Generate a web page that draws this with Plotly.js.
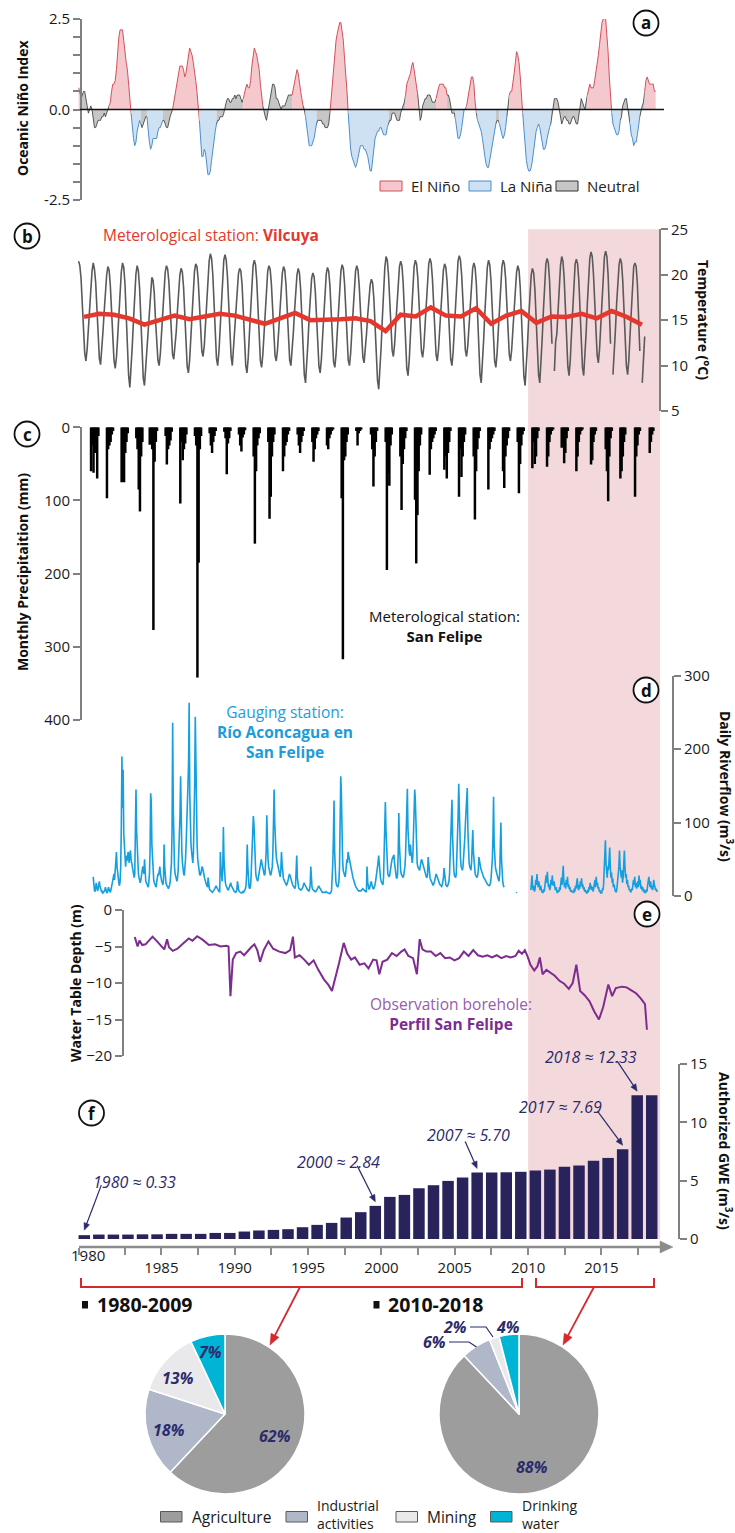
<!DOCTYPE html>
<html><head><meta charset="utf-8">
<script src="https://cdn.plot.ly/plotly-3.0.1.min.js"></script>
<style>html,body{margin:0;padding:0;background:#fff}#chart{width:735px;height:1533px}</style>
</head><body><div id="chart"></div>
<script>
// ---------------- DATA ----------------
// (a) Oceanic Niño Index, monthly from Jan 1980
const oniStartYear = 1980;
const oniValues = [
0.6,0.5,0.3,0.4,0.5,0.5,0.3,0.0,-0.1,0.0,0.1,0.0,
-0.3,-0.5,-0.5,-0.4,-0.3,-0.3,-0.3,-0.2,-0.2,-0.1,-0.2,-0.1,
0.0,0.1,0.2,0.5,0.7,0.7,0.8,1.1,1.6,2.0,2.2,2.2,
2.2,1.9,1.5,1.3,1.1,0.7,0.3,-0.1,-0.5,-0.8,-1.0,-0.9,
-0.6,-0.4,-0.3,-0.4,-0.5,-0.4,-0.3,-0.2,-0.2,-0.6,-0.9,-1.1,
-1.0,-0.8,-0.8,-0.8,-0.8,-0.6,-0.5,-0.5,-0.4,-0.3,-0.3,-0.4,
-0.5,-0.5,-0.3,-0.2,-0.1,0.0,0.2,0.4,0.7,0.9,1.1,1.2,
1.2,1.2,1.1,0.9,1.0,1.2,1.5,1.7,1.6,1.5,1.3,1.1,
0.8,0.5,0.1,-0.3,-0.9,-1.3,-1.3,-1.1,-1.2,-1.5,-1.8,-1.8,
-1.7,-1.4,-1.1,-0.8,-0.6,-0.4,-0.3,-0.3,-0.2,-0.2,-0.2,-0.1,
0.1,0.2,0.3,0.3,0.2,0.2,0.3,0.3,0.4,0.3,0.4,0.4,
0.4,0.3,0.2,0.3,0.5,0.6,0.7,0.6,0.6,0.8,1.2,1.5,
1.7,1.6,1.5,1.3,1.1,0.7,0.4,0.1,-0.1,-0.2,-0.3,-0.1,
0.1,0.3,0.5,0.7,0.7,0.6,0.3,0.3,0.2,0.1,0.0,0.1,
0.1,0.1,0.2,0.3,0.4,0.4,0.4,0.4,0.6,0.7,1.0,1.1,
1.0,0.7,0.5,0.3,0.1,0.0,-0.2,-0.5,-0.8,-1.0,-1.0,-1.0,
-0.9,-0.8,-0.6,-0.4,-0.3,-0.3,-0.3,-0.3,-0.4,-0.4,-0.5,-0.5,
-0.5,-0.4,-0.1,0.3,0.8,1.2,1.6,1.9,2.1,2.3,2.4,2.4,
2.2,1.9,1.4,1.0,0.5,-0.1,-0.8,-1.1,-1.3,-1.4,-1.5,-1.6,
-1.5,-1.3,-1.1,-1.0,-1.0,-1.0,-1.1,-1.1,-1.2,-1.3,-1.5,-1.7,
-1.7,-1.4,-1.1,-0.8,-0.7,-0.6,-0.6,-0.5,-0.5,-0.6,-0.7,-0.7,
-0.7,-0.5,-0.4,-0.3,-0.3,-0.1,-0.1,-0.1,-0.2,-0.3,-0.3,-0.3,
-0.1,0.0,0.1,0.2,0.4,0.7,0.8,0.9,1.0,1.2,1.3,1.1,
0.9,0.6,0.4,0.0,-0.3,-0.2,0.1,0.2,0.3,0.3,0.4,0.4,
0.4,0.3,0.2,0.2,0.2,0.3,0.5,0.6,0.7,0.7,0.7,0.7,
0.6,0.6,0.4,0.4,0.3,0.1,-0.1,-0.1,-0.1,-0.3,-0.6,-0.8,
-0.8,-0.7,-0.5,-0.3,0.0,0.0,0.1,0.3,0.5,0.7,0.9,0.9,
0.7,0.2,-0.1,-0.3,-0.4,-0.5,-0.6,-0.8,-1.1,-1.3,-1.5,-1.6,
-1.6,-1.4,-1.2,-0.9,-0.8,-0.5,-0.4,-0.3,-0.3,-0.4,-0.6,-0.7,
-0.8,-0.7,-0.5,-0.2,0.1,0.4,0.5,0.5,0.7,1.0,1.3,1.6,
1.5,1.3,0.9,0.4,-0.1,-0.6,-1.0,-1.4,-1.6,-1.7,-1.7,-1.6,
-1.4,-1.1,-0.8,-0.6,-0.5,-0.4,-0.5,-0.7,-0.9,-1.1,-1.1,-1.0,
-0.8,-0.6,-0.5,-0.4,-0.2,0.1,0.3,0.3,0.3,0.2,0.0,-0.2,
-0.4,-0.3,-0.2,-0.2,-0.3,-0.3,-0.4,-0.4,-0.3,-0.2,-0.2,-0.3,
-0.4,-0.4,-0.2,0.1,0.3,0.2,0.1,0.0,0.2,0.4,0.6,0.7,
0.6,0.6,0.6,0.8,1.0,1.2,1.5,1.8,2.1,2.4,2.5,2.6,
2.5,2.1,1.6,0.9,0.4,-0.1,-0.4,-0.5,-0.6,-0.7,-0.7,-0.6,
-0.3,-0.2,0.1,0.2,0.3,0.3,0.1,-0.1,-0.4,-0.7,-0.8,-1.0,
-0.9,-0.9,-0.7,-0.5,-0.2,0.0,0.1,0.2,0.5,0.8,0.9,0.8,
0.7,0.7,0.7,0.7,0.5,0.5
];
const elNinoEpisodes = [['1980-01','1980-01'],['1982-02','1983-07'],['1986-06','1988-03'],['1991-04','1992-07'],['1994-08','1995-04'],['1997-03','1998-05'],['2002-05','2003-02'],['2004-06','2005-02'],['2006-07','2007-02'],['2009-06','2010-04'],['2014-10','2016-05'],['2018-09','2019-06']];
const laNinaEpisodes = [['1983-08','1984-03'],['1984-09','1985-09'],['1988-04','1989-05'],['1995-07','1996-03'],['1998-06','2001-02'],['2005-10','2006-04'],['2007-04','2008-06'],['2008-10','2009-03'],['2010-05','2012-03'],['2016-06','2016-12'],['2017-09','2018-04']];
const oniLabelTicks = [-2.5, 0, 2.5];
const oniMinorTicks = [-2, -1.5, -1, -0.5, 0.5, 1, 1.5, 2];

// (b) Monthly temperature at Vilcuya (°C), rows = years from 1980
const tempStartYear = 1980;
const temperatureMonthly = [
[21.5,21.0,19.6,16.5,13.2,11.4,10.5,11.8,14.0,16.4,18.6,20.4],
[21.3,20.6,19.1,16.0,12.8,10.8,10.1,11.6,13.8,16.0,18.1,20.0],
[20.9,20.5,18.8,15.6,12.4,10.6,9.7,10.9,13.1,15.8,18.2,20.3],
[21.3,20.8,19.0,15.2,11.5,8.9,7.6,9.6,12.2,15.0,17.9,20.1],
[21.0,20.4,18.5,14.8,11.0,8.6,7.8,9.8,12.0,14.6,16.8,18.6],
[19.7,19.4,18.0,15.1,12.2,10.6,10.0,11.3,13.6,16.2,18.7,20.3],
[21.0,20.6,19.2,16.3,13.1,11.2,10.7,11.9,13.7,16.0,18.1,20.0],
[20.7,20.3,18.7,15.4,12.0,9.9,9.2,10.6,13.1,15.8,18.4,20.4],
[21.2,20.9,19.5,16.6,13.4,11.6,11.0,12.2,14.5,17.3,19.8,21.5],
[22.3,21.8,20.0,16.7,13.0,10.8,10.0,11.5,14.0,17.0,19.9,21.6],
[22.2,21.6,19.8,16.3,12.9,11.0,10.0,12.1,13.8,16.2,18.5,20.1],
[20.7,20.4,18.9,15.6,12.1,10.0,9.2,10.8,13.5,16.4,19.2,21.0],
[21.6,21.1,19.4,16.0,12.6,10.5,9.8,11.2,13.5,16.1,18.6,20.4],
[21.0,20.6,19.0,16.0,12.9,11.1,10.5,11.7,13.8,16.2,18.5,20.2],
[20.9,20.5,18.9,15.7,12.4,10.6,10.0,11.4,13.6,16.0,18.3,20.0],
[20.7,20.2,18.4,14.9,11.2,9.0,8.1,9.9,12.6,15.4,17.9,19.6],
[20.2,19.8,18.2,15.0,11.8,9.9,9.2,10.7,13.2,15.9,18.4,20.1],
[20.8,20.4,18.8,15.6,12.4,10.4,9.8,11.2,13.6,16.2,18.7,20.4],
[21.1,20.7,19.0,15.8,12.6,10.6,10.0,11.4,13.8,16.4,18.8,20.4],
[21.0,20.5,18.8,15.7,12.7,10.9,10.3,11.6,13.5,15.6,17.4,18.9],
[19.5,19.1,17.4,14.2,10.9,8.4,7.4,9.3,12.1,15.3,18.4,20.8],
[22.0,21.6,20.0,16.9,13.7,11.7,11.0,12.3,14.6,17.1,19.4,20.9],
[21.5,21.0,19.2,15.6,11.9,9.7,8.9,10.6,13.4,16.4,19.2,20.9],
[21.6,21.2,19.7,16.7,13.6,11.6,10.9,12.1,14.5,17.2,19.7,21.2],
[21.8,21.3,19.6,16.4,13.2,11.2,10.5,11.8,14.0,16.5,18.9,20.5],
[21.2,20.8,19.3,16.1,12.8,10.7,10.0,11.5,14.1,17.0,19.8,21.5],
[22.1,21.6,19.9,16.8,13.7,11.7,11.0,12.2,14.3,16.8,19.1,20.7],
[21.3,20.8,19.0,15.3,11.5,9.0,8.1,9.9,12.8,15.8,18.8,20.8],
[21.6,21.1,19.4,16.1,12.7,10.5,9.8,11.3,13.8,16.6,19.2,20.9],
[21.6,21.2,19.6,16.5,13.3,11.2,10.5,11.8,14.0,16.4,18.8,20.3],
[21.0,20.5,18.6,14.9,11.2,8.8,7.8,9.7,12.5,15.4,18.2,20.0],
[20.7,20.2,18.4,14.8,11.3,9.0,8.1,10.0,13.0,16.1,19.2,21.2],
[21.8,21.3,19.4,15.9,12.4,null,9.4,12.6,13.5,16.3,19.0,21.0],
[22.0,21.5,19.6,16.0,12.3,9.9,8.9,10.6,13.5,16.6,19.4,21.2],
[21.7,21.2,19.4,15.8,12.1,9.8,8.9,10.7,13.6,16.8,19.8,21.8],
[22.5,22.0,20.1,16.7,13.4,11.2,10.3,11.8,14.4,17.4,20.2,22.0],
[22.6,22.0,20.0,16.3,12.4,null,9.0,11.0,13.9,16.8,19.4,21.1],
[21.8,21.3,19.4,15.9,12.2,10.0,9.0,10.6,13.4,16.3,19.0,20.9],
[21.3,20.9,19.0,15.3,11.6,null,8.1,10.5,13.2]
];
// annual mean temperature
const annualYears = [1981,1982,1983,1984,1985,1986,1987,1988,1989,1990,1991,1992,1993,1994,1995,1996,1997,1998,1999,2000,2001,2002,2003,2004,2005,2006,2007,2008,2009,2010,2011,2012,2013,2014,2015,2016,2017,2018];
const annualMeanTemp = [15.36,15.7,15.6,15.2,14.5,15.0,15.5,15.1,15.4,15.7,15.5,15.0,14.6,15.2,15.8,15.0,15.0,15.1,15.2,14.9,13.8,15.6,15.4,16.4,15.5,15.4,16.3,14.6,15.5,16.0,14.7,15.4,15.35,15.7,15.2,16.0,15.35,14.5];

// (c) Monthly precipitation at San Felipe (mm), rows = years from 1980
const precipStartYear = 1980;
const precipMonthly = [
[0,0,60,25,62,35,20,70,12,0,0,0],
[0,0,0,97,30,25,20,10,5,0,0,0],
[0,0,0,75,74,75,35,20,8,0,0,0],
[0,0,0,15,30,85,115,40,20,0,0,0],
[0,0,24,10,30,277,47,20,5,0,0,0],
[0,0,0,12,51,30,25,18,6,0,0,0],
[0,0,0,104,20,45,30,22,10,0,0,0],
[0,0,0,12,25,342,185,30,12,0,0,0],
[0,0,0,8,25,35,20,12,5,0,0,0],
[0,0,0,6,15,64,22,15,5,0,0,0],
[0,0,0,10,25,33,14,10,4,0,0,0],
[0,0,0,40,159,60,25,15,8,0,0,0],
[0,0,0,20,125,95,40,20,10,0,0,0],
[0,0,0,60,40,25,20,10,5,0,0,0],
[0,0,0,10,25,35,20,12,5,0,0,0],
[0,0,0,20,47,30,15,10,5,0,0,0],
[0,0,0,25,30,15,10,5,3,0,0,0],
[0,0,0,97,317,45,40,20,10,0,0,0],
[0,0,0,5,25,8,5,3,0,0,0,0],
[0,0,0,10,30,81,40,20,5,0,0,0],
[0,0,0,20,195,63,80,25,10,0,0,0],
[0,0,0,40,113,50,30,15,5,0,0,0],
[0,0,0,99,186,120,60,25,10,0,0,0],
[0,0,0,65,30,20,15,10,5,0,0,0],
[0,0,0,58,40,70,35,20,5,0,0,0],
[0,0,0,95,30,68,40,20,10,0,0,0],
[0,0,0,40,126,60,30,15,5,0,0,0],
[0,0,0,85,30,20,15,10,5,0,0,0],
[0,0,0,60,83,40,25,15,5,0,0,0],
[0,0,0,20,90,50,25,10,5,0,0,0],
[0,0,0,56,20,50,40,15,5,0,0,0],
[0,0,0,54,40,20,10,5,3,0,0,0],
[0,0,0,28,20,49,35,15,5,0,0,0],
[0,0,0,60,40,20,10,5,3,0,0,0],
[0,0,0,51,45,20,10,5,0,0,0,0],
[0,0,0,30,60,101,40,15,5,0,0,0],
[0,0,0,70,60,40,20,10,0,0,0,0],
[0,0,0,95,40,25,10,5,0,0,0,0],
[0,0,0,35,20,10,5,0,0,0,0,0]
];

// (d) River flow Río Aconcagua en San Felipe (m3/s), 24 values per year from 1980
const riverStartYear = 1980;
const riverflow = [
[null,null,null,null,null,null,null,null,26,14,8,6,10,18,12,7,9,15,20,14,10,7,5,6],
[4,5,6,8,12,7,5,4,8,12,9,6,5,8,12,16,20,26,30,22,35,45,60,40],
[35,25,18,14,20,40,95,190,120,172,85,60,45,40,50,55,48,60,52,45,58,62,50,44],
[40,35,30,25,30,70,145,90,60,40,30,25,20,18,22,30,35,40,38,30,50,25,20,18],
[16,14,12,18,30,60,140,128,70,45,30,22,18,15,14,12,20,25,30,28,35,40,30,22],
[20,18,15,22,70,40,25,18,15,14,12,10,12,15,20,30,45,90,236,120,60,40,30,25],
[22,20,25,35,60,80,110,163,90,60,45,35,30,28,35,50,70,90,120,150,180,263,140,90],
[70,60,50,45,60,90,150,244,162,100,70,50,40,35,30,28,30,35,40,38,35,30,25,20],
[18,16,14,12,25,14,10,8,7,6,6,5,6,7,8,10,12,14,12,10,8,7,6,6],
[60,40,25,20,35,94,50,30,20,15,12,10,9,8,10,12,15,18,14,12,10,8,7,6],
[6,5,6,8,20,12,8,6,5,5,4,4,5,6,5,6,8,10,14,30,70,40,20,12],
[10,12,20,40,60,80,109,98,60,40,30,25,22,20,24,30,35,40,45,50,45,40,35,30],
[28,30,40,60,110,70,50,40,35,30,28,30,35,40,60,90,145,100,70,60,50,45,40,35],
[30,28,26,35,60,45,30,25,22,20,18,16,15,16,18,22,26,30,28,24,20,18,16,14],
[12,11,10,14,30,55,25,16,12,10,9,8,8,9,10,12,15,18,16,14,12,10,9,8],
[8,7,9,15,40,20,12,9,8,7,6,6,6,7,8,10,12,14,12,10,8,7,6,5],
[5,5,4,4,5,6,5,4,4,4,3,3,4,5,8,20,45,80,130,60,30,20,15,12],
[12,15,20,40,90,163,141,80,50,35,30,28,26,30,40,50,45,60,55,50,45,40,35,30],
[28,25,22,18,15,14,12,10,9,8,7,7,6,6,7,8,9,10,9,8,7,7,6,6],
[40,20,12,9,10,14,18,20,15,12,10,10,12,15,20,25,30,40,45,55,40,30,25,20],
[18,16,15,25,50,80,128,90,60,40,30,28,26,28,32,38,45,50,52,54,56,45,35,28],
[25,24,30,60,113,70,45,35,30,28,26,25,28,32,40,55,80,110,146,90,70,60,55,70],
[60,50,45,55,80,110,145,131,90,60,45,40,38,36,35,40,45,50,48,45,40,38,35,30],
[28,26,25,30,53,40,30,25,22,20,18,16,15,16,18,22,26,30,28,25,22,20,18,16],
[15,14,13,15,20,25,38,25,18,15,14,13,14,16,20,30,50,80,105,131,80,50,35,28],
[26,25,30,50,80,110,153,100,70,50,40,35,35,40,50,60,80,100,120,130,147,90,60,45],
[40,35,35,45,60,90,60,45,35,30,28,26,25,28,35,53,45,40,38,35,32,30,28,25],
[24,22,20,18,17,16,15,14,14,15,18,25,35,50,80,135,70,50,40,35,30,28,25,22],
[20,30,60,100,50,30,20,15,12,null,null,null,null,null,null,null,null,null,null,null,null,null,null,null],
[null,null,null,null,5,4,null,null,null,null,null,null,null,null,null,null,null,null,null,null,null,null,null,null],
[null,null,null,null,8,18,28,12,8,14,6,10,22,15,30,18,12,20,10,8,14,7,6,5],
[5,9,6,14,22,28,18,33,20,12,16,8,12,22,15,28,18,14,20,10,8,12,6,5],
[5,8,6,12,8,18,25,15,30,41,20,12,18,10,22,15,26,12,16,9,12,6,8,5],
[5,7,4,10,6,14,10,18,24,12,8,15,10,20,14,24,12,16,9,12,6,8,5,4],
[4,8,5,12,8,18,10,14,8,12,6,10,14,22,12,26,15,18,10,12,6,8,4,4],
[4,10,8,15,30,50,76,45,30,25,40,35,50,66,40,25,32,18,24,12,16,9,7,6],
[6,12,18,30,40,62,40,30,25,35,18,25,40,62,40,25,30,16,22,12,14,8,9,6],
[6,10,8,16,22,15,26,12,18,10,14,20,12,28,15,22,10,14,8,12,6,9,5,5],
[5,9,6,14,18,26,18,12,20,10,14,8,12,22,16,12,8,10,6,8]
];

// (e) Water table depth, Perfil San Felipe (m)
const wtTime = [1983.19,1983.29,1983.38,1983.51,1983.70,1983.92,1984.18,1984.40,1984.66,1984.95,1985.20,1985.39,1985.52,1985.78,1986.10,1986.48,1986.87,1987.12,1987.44,1987.83,1988.24,1988.66,1989.04,1989.42,1989.58,1989.71,1989.87,1990.10,1990.38,1990.64,1990.87,1991.12,1991.34,1991.54,1991.73,1991.98,1992.30,1992.62,1993.04,1993.46,1993.78,1993.97,1994.10,1994.42,1994.74,1995.06,1995.38,1995.70,1996.08,1996.40,1996.63,1996.85,1997.11,1997.43,1997.68,1997.94,1998.20,1998.52,1998.84,1999.12,1999.44,1999.67,1999.86,2000.08,2000.40,2000.72,2001.04,2001.36,2001.58,2001.84,2002.16,2002.42,2002.61,2002.80,2003.06,2003.38,2003.70,2004.02,2004.34,2004.66,2004.98,2005.30,2005.62,2005.94,2006.26,2006.58,2006.90,2007.22,2007.54,2007.86,2008.18,2008.50,2008.82,2009.14,2009.36,2009.58,2009.78,2009.97,2010.16,2010.42,2010.64,2010.80,2010.99,2011.25,2011.50,2011.82,2012.14,2012.46,2012.78,2013.04,2013.29,2013.55,2013.87,2014.19,2014.51,2014.83,2015.12,2015.47,2015.73,2015.98,2016.40,2016.72,2017.04,2017.36,2017.68,2017.97,2018.10];
const wtDepth = [-3.7,-4.3,-5.0,-4.2,-4.8,-4.7,-4.1,-3.65,-4.2,-4.9,-5.4,-4.0,-5.1,-5.6,-5.3,-4.6,-3.9,-4.2,-3.6,-4.1,-4.8,-4.7,-5.0,-4.9,-5.0,-11.8,-6.8,-5.9,-5.7,-6.2,-5.6,-5.1,-4.7,-5.5,-7.1,-5.5,-4.3,-5.3,-5.7,-5.9,-5.5,-3.65,-6.5,-6.2,-6.8,-7.5,-6.9,-8.2,-9.5,-10.3,-11.1,-9.4,-7.3,-4.5,-6.0,-6.8,-6.5,-7.5,-7.3,-8.0,-6.8,-6.9,-8.8,-7.1,-6.8,-5.9,-6.3,-5.7,-5.4,-6.3,-6.6,-8.8,-4.0,-5.4,-5.7,-5.7,-6.3,-5.9,-6.6,-6.5,-6.9,-6.6,-5.7,-6.3,-5.5,-6.2,-6.4,-6.2,-6.5,-6.2,-6.6,-6.3,-6.5,-6.3,-5.6,-6.0,-5.5,-6.4,-7.5,-8.3,-7.7,-6.5,-8.8,-8.2,-8.6,-9.0,-9.7,-10.1,-10.8,-10.0,-7.5,-11.1,-11.7,-12.5,-13.9,-15.0,-13.3,-10.2,-11.8,-10.7,-10.5,-10.6,-11.0,-11.4,-12.1,-12.9,-16.4];

// (f) Authorized groundwater extraction (m3/s)
const gweYears = [1980,1981,1982,1983,1984,1985,1986,1987,1988,1989,1990,1991,1992,1993,1994,1995,1996,1997,1998,1999,2000,2001,2002,2003,2004,2005,2006,2007,2008,2009,2010,2011,2012,2013,2014,2015,2016,2017,2018,2019];
const gweValues = [0.33,0.38,0.38,0.38,0.40,0.40,0.44,0.44,0.44,0.52,0.52,0.64,0.73,0.78,0.84,1.01,1.21,1.38,1.84,2.30,2.84,3.61,3.78,4.35,4.61,4.98,5.27,5.70,5.70,5.72,5.76,5.87,5.95,6.20,6.30,6.70,6.95,7.69,12.33,12.33];
const annotatedYears = [1980,2000,2007,2017,2018];
const xTickYears = [1985,1990,1995,2000,2005,2010,2015];
const xMinorTicks = [1979.39,1982.5,1987.5,1992.5,1997.5,2002.5,2007.5,2012.5,2017.5];

// Pies
const useLabels = ['Agriculture','Industrial activities','Mining','Drinking water'];
const use1980_2009 = [62,18,13,7];
const use2010_2018 = [88,6,2,4];
const periodLabels = ['1980-2009','2010-2018'];
const recentPeriod = [2010,2019];

// ---------------- HELPERS ----------------
const W = 735, H = 1533;
const px = x => x / W;
const py = y => 1 - y / H;
const FONT = 'Open Sans, sans-serif';
const NAVY = '#2b2a6b';
const traces = [];
const annotations = [];
const shapes = [];
function A(text, x, y, o) {
  o = o || {};
  annotations.push({text, x: px(x), y: py(y), xref: 'paper', yref: 'paper', showarrow: false,
    xanchor: o.xanchor || 'center', yanchor: 'middle', textangle: o.textangle || 0, align: o.align || 'center',
    font: {family: FONT, size: o.size || 15, color: o.color || '#111'}});
}
function pathPx(pts, close) { return pts.map((p, i) => (i ? 'L' : 'M') + px(p[0]).toFixed(5) + ',' + py(p[1]).toFixed(5)).join(' ') + (close ? ' Z' : ''); }
function rectPx(x0, y0, x1, y1, fill, line, lw) {
  shapes.push({type: 'rect', xref: 'paper', yref: 'paper', x0: px(x0), x1: px(x1), y0: py(y1), y1: py(y0),
    fillcolor: fill, line: {color: line || fill, width: lw === undefined ? 1 : lw}});
}
// arrow drawn as shapes (pixel coordinates of tail and head)
function arrowPx(tx, ty, hx, hy, color, lw, hl, hw) {
  const dx = hx - tx, dy = hy - ty, len = Math.hypot(dx, dy), ux = dx / len, uy = dy / len;
  const bx = hx - ux * hl, by = hy - uy * hl;
  shapes.push({type: 'path', xref: 'paper', yref: 'paper', path: pathPx([[tx, ty], [bx + ux * 1, by + uy * 1]]), line: {color, width: lw}});
  shapes.push({type: 'path', xref: 'paper', yref: 'paper', path: pathPx([[hx, hy], [bx - uy * hw, by + ux * hw], [bx + uy * hw, by - ux * hw]], true),
    fillcolor: color, line: {color, width: 0.5}});
}

// ---------------- (a) ONI ----------------
const oniT = oniValues.map((v, i) => oniStartYear + (i + 0.5) / 12);
const ymIdx = s => { const [y, m] = s.split('-').map(Number); return (y - oniStartYear) * 12 + (m - 1); };
const phase = oniValues.map(() => 'N');
elNinoEpisodes.forEach(([a, b]) => { for (let i = ymIdx(a); i <= ymIdx(b) && i < phase.length; i++) phase[i] = 'E'; });
laNinaEpisodes.forEach(([a, b]) => { for (let i = ymIdx(a); i <= ymIdx(b) && i < phase.length; i++) phase[i] = 'L'; });
const phaseStyle = {E: {fill: '#f4c8cc', line: '#d4505b', w: 1}, L: {fill: '#cde1f3', line: '#4b8fcd', w: 1}, N: {fill: '#c6c6c6', line: '#333333', w: 0.8}};
let s0 = 0;
for (let i = 1; i <= oniValues.length; i++) {
  if (i === oniValues.length || phase[i] !== phase[s0]) {
    const end = Math.min(i, oniValues.length - 1);
    const st = phaseStyle[phase[s0]];
    traces.push({type: 'scatter', mode: 'lines', x: oniT.slice(s0, end + 1), y: oniValues.slice(s0, end + 1),
      xaxis: 'x', yaxis: 'y', fill: 'tozeroy', fillcolor: st.fill, line: {color: st.line, width: st.w},
      hoverinfo: 'skip', showlegend: false});
    s0 = i;
  }
}

// ---------------- (b) Temperature ----------------
const tempT = [], tempV = [];
temperatureMonthly.forEach((row, r) => row.forEach((v, m) => { tempT.push(tempStartYear + r + (m + 0.5) / 12); tempV.push(v); }));
traces.push({type: 'scatter', mode: 'lines', x: tempT, y: tempV, xaxis: 'x', yaxis: 'y2', connectgaps: false,
  line: {color: '#5a5a5a', width: 1.6}, hoverinfo: 'skip', showlegend: false});
traces.push({type: 'scatter', mode: 'lines', x: annualYears, y: annualMeanTemp, xaxis: 'x4', yaxis: 'y2',
  line: {color: '#e5372d', width: 4.5}, hoverinfo: 'skip', showlegend: false});

// ---------------- (c) Precipitation ----------------
const precT = [], precV = [];
precipMonthly.forEach((row, r) => row.forEach((v, m) => { precT.push(precipStartYear + r + (m + 0.5) / 12); precV.push(v); }));
traces.push({type: 'bar', x: precT, y: precV, xaxis: 'x2', yaxis: 'y3', width: 0.17,
  marker: {color: '#000', line: {width: 0}}, hoverinfo: 'skip', showlegend: false});

// ---------------- (d) River flow ----------------
const rivT = [], rivV = [];
riverflow.forEach((row, r) => row.forEach((v, j) => { rivT.push(riverStartYear + r + (j + 0.5) / 24); rivV.push(v); }));
traces.push({type: 'scatter', mode: 'lines', x: rivT, y: rivV, xaxis: 'x2', yaxis: 'y4', connectgaps: false,
  line: {color: '#149fdf', width: 1.6}, hoverinfo: 'skip', showlegend: false});

// ---------------- (e) Water table ----------------
traces.push({type: 'scatter', mode: 'lines', x: wtTime, y: wtDepth, xaxis: 'x2', yaxis: 'y5',
  line: {color: '#7d2c8f', width: 2}, hoverinfo: 'skip', showlegend: false});

// ---------------- (f) GWE bars ----------------
traces.push({type: 'bar', x: gweYears, y: gweValues, xaxis: 'x3', yaxis: 'y6', width: 0.79,
  marker: {color: '#29235c', line: {width: 0}}, hoverinfo: 'skip', showlegend: false});

// ---------------- Pies ----------------
const pieColors = ['#9d9d9d', '#b0b7c9', '#e9e9eb', '#00b4d6'];
[[use1980_2009, 145, 305], [use2010_2018, 439, 599]].forEach(([vals, x0, x1]) => {
  traces.push({type: 'pie', labels: useLabels, values: vals, sort: false, direction: 'clockwise', rotation: 0,
    domain: {x: [px(x0), px(x1)], y: [py(1494), py(1334)]}, textinfo: 'none', textposition: 'none', hoverinfo: 'skip',
    marker: {colors: pieColors, line: {color: '#ffffff', width: 1.5}}, showlegend: false});
});

// ---------------- Layout ----------------
const xDom = [px(78), px(672)];
const x3Range = [1979.567, 2020.392];
const yBase = {showgrid: false, zeroline: false, showline: true, linecolor: '#808080', linewidth: 2,
  ticks: 'outside', ticklen: 7, tickwidth: 2, tickcolor: '#808080', anchor: 'free', fixedrange: true,
  tickfont: {family: FONT, size: 15, color: '#1a1a1a'}};

// shading of recent period
shapes.push({type: 'rect', xref: 'x2', yref: 'paper', x0: recentPeriod[0], x1: recentPeriod[1], y0: py(1239), y1: py(229.3),
  fillcolor: '#f4d9dc', line: {width: 0}, layer: 'below'});
// ONI zero line
shapes.push({type: 'line', xref: 'paper', yref: 'y', x0: px(80), x1: px(664), y0: 0, y1: 0, line: {color: '#111', width: 1.5}});

// ONI legend
const oniLeg = [['El Niño', 380, 'E'], ['La Niña', 469, 'L'], ['Neutral', 556, 'N']];
oniLeg.forEach(([t, x, p]) => {
  rectPx(x, 181, x + 22, 191, phaseStyle[p].fill, phaseStyle[p].line, 1);
  A(t, x + 29, 186, {xanchor: 'left', size: 15, color: '#222'});
});

// axis titles
A('<b>Oceanic Niño Index</b>', 22, 108, {textangle: -90, size: 14});
A('<b>Monthly Precipitaition (mm)</b>', 22, 572, {textangle: -90, size: 14});
A('<b>Water Table Depth (m)</b>', 75, 983, {textangle: -90, size: 14});
A('<b>Temperature (°C)</b>', 704, 320, {textangle: 90, size: 14});
A('<b>Daily Riverflow (m<sup>3</sup>/s)</b>', 726, 786, {textangle: 90, size: 14});
A('<b>Authorized GWE (m<sup>3</sup>/s)</b>', 725, 1151, {textangle: 90, size: 14});

// station labels
A('Meterological station: <b>Vilcuya</b>', 211, 235, {color: '#e5372d', size: 15.5});
A('Meterological station:<br><b>San Felipe</b>', 444, 626, {color: '#111', size: 15});
A('Gauging station:<br><b>Río Aconcagua en<br>San Felipe</b>', 285, 732, {color: '#1c9cda', size: 15.5});
A('Observation borehole:<br><b><span style="color:#7d2c8f">Perfil San Felipe</span></b>', 451, 1014, {color: '#9a5aab', size: 15.5});

// panel letters
[['a', 646, 23], ['b', 27, 236], ['c', 27, 434], ['d', 646, 690], ['e', 647, 914], ['f', 91.5, 1113]].forEach(([t, x, y]) => {
  shapes.push({type: 'circle', xref: 'paper', yref: 'paper', x0: px(x - 12.5), x1: px(x + 12.5), y0: py(y + 12.5), y1: py(y - 12.5),
    fillcolor: '#fff', line: {color: '#111', width: 1.8}});
  A('<b>' + t + '</b>', x, y, {size: 17, color: '#111'});
});

// x axis arrow line + "1980" label
arrowPx(79, 1247, 673, 1247, '#8c8c8c', 2.5, 13, 6);
annotations.push({x: 1980, y: py(1267), xref: 'x2', yref: 'paper', text: '1980', showarrow: false,
  font: {family: FONT, size: 15, color: '#1a1a1a'}});

// bar value annotations
const barPx = yr => 78 + (yr - x3Range[0]) / (x3Range[1] - x3Range[0]) * 594;
const valPx = v => 1239 - v * 175 / 15;
const annPos = {1980: [134, 1182, 17, -45, 5], 2000: [338.5, 1162, -18, -36, 4], 2007: [468, 1135, -12, -27, 4], 2017: [560.6, 1107, -25, -34, 4], 2018: [591, 1057, -20, -30, 4]};
annotatedYears.forEach(yr => {
  const v = gweValues[gweYears.indexOf(yr)];
  const [tx, ty, ax, ay, so] = annPos[yr];
  A('<i>' + yr + ' ≈ ' + v.toFixed(2) + '</i>', tx, ty, {size: 16, color: NAVY});
  const hx = barPx(yr), hy = valPx(v) - so;
  arrowPx(hx + ax, hy + ay, hx, hy, NAVY, 1.2, 7, 3);
});

// red brackets and arrows
shapes.push({type: 'path', xref: 'paper', yref: 'paper', path: pathPx([[81, 1278], [81, 1287], [522, 1287], [522, 1278]]), line: {color: '#d42a2f', width: 2}});
shapes.push({type: 'path', xref: 'paper', yref: 'paper', path: pathPx([[536, 1278], [536, 1287], [654, 1287], [654, 1278]]), line: {color: '#d42a2f', width: 2}});
arrowPx(300, 1287, 270, 1345, '#d42a2f', 1.8, 11, 4.5);
arrowPx(594, 1287, 563, 1345, '#d42a2f', 1.8, 11, 4.5);

// pie titles
rectPx(82, 1301, 88, 1308.5, '#111', '#111', 0);
rectPx(373.5, 1301, 379.5, 1308.5, '#111', '#111', 0);
A('<b>' + periodLabels[0] + '</b>', 95, 1304, {xanchor: 'left', size: 19.5, color: '#111'});
A('<b>' + periodLabels[1] + '</b>', 386, 1304, {xanchor: 'left', size: 19.5, color: '#111'});

// pie percentage labels
const pieLab1 = [[274.6, 1436], [169, 1430], [178.4, 1378], [210.3, 1352]];
const pieLab2 = [[532, 1467], [434, 1342], [455, 1327], [508, 1327]];
use1980_2009.forEach((v, i) => A('<b><i>' + v + '%</i></b>', pieLab1[i][0], pieLab1[i][1], {size: 16, color: NAVY}));
use2010_2018.forEach((v, i) => A('<b><i>' + v + '%</i></b>', pieLab2[i][0], pieLab2[i][1], {size: 16, color: NAVY}));
shapes.push({type: 'path', xref: 'paper', yref: 'paper', path: pathPx([[449, 1342], [469, 1342], [476.5, 1347]]), line: {color: NAVY, width: 1.2}});
shapes.push({type: 'path', xref: 'paper', yref: 'paper', path: pathPx([[470, 1327], [486, 1327], [493, 1337]]), line: {color: NAVY, width: 1.2}});

// pie legend
const legX = [[160.5, 190], [286, 314.5], [396, 425], [490.5, 520]];
useLabels.forEach((lab, i) => {
  rectPx(legX[i][0], 1511.5, legX[i][0] + 21.5, 1522, pieColors[i], '#5a5a5a', 1);
  const parts = lab.split(' ');
  const txt = parts.length > 1 ? parts[0] + '<br>' + parts.slice(1).join(' ') : lab;
  A(txt, legX[i][1], parts.length > 1 ? 1514 : 1517, {xanchor: 'left', align: 'left', size: parts.length > 1 ? 14 : 15.5, color: '#1a1a1a'});
});

const layout = {
  width: W, height: H, margin: {l: 0, r: 0, t: 0, b: 0}, paper_bgcolor: '#fff', plot_bgcolor: 'rgba(0,0,0,0)',
  showlegend: false, hovermode: false, font: {family: FONT, color: '#111'},
  xaxis: {domain: xDom, range: [1980, 2020.574], visible: false, anchor: 'y', fixedrange: true},
  xaxis2: {domain: xDom, range: [1979.318, 2019.81], anchor: 'free', position: py(1247), showline: false, showgrid: false,
    zeroline: false, ticks: 'outside', ticklen: 7, tickwidth: 2, tickcolor: '#8c8c8c', tickvals: xTickYears,
    minor: {tickvals: xMinorTicks, ticks: 'outside', ticklen: 7, tickwidth: 2, tickcolor: '#8c8c8c', showgrid: false},
    tickfont: {family: FONT, size: 15, color: '#1a1a1a'}, fixedrange: true},
  xaxis3: {domain: xDom, range: x3Range, visible: false, anchor: 'y6', fixedrange: true},
  xaxis4: {domain: xDom, range: [1980.602, 2019.992], visible: false, anchor: 'y2', fixedrange: true},
  yaxis: Object.assign({}, yBase, {domain: [py(200), py(19)], range: [-2.5, 2.5], position: px(81), side: 'left',
    tickvals: oniLabelTicks, ticktext: oniLabelTicks.map(v => v.toFixed(1)),
    minor: {tickvals: oniMinorTicks, ticks: 'outside', ticklen: 7, tickwidth: 2, tickcolor: '#808080', showgrid: false}}),
  yaxis2: Object.assign({}, yBase, {domain: [py(411), py(229.3)], range: [5, 25], position: px(660), side: 'right', tickvals: [5, 10, 15, 20, 25]}),
  yaxis3: Object.assign({}, yBase, {domain: [py(720), py(427.3)], range: [400, 0], position: px(81), side: 'left', tickvals: [0, 100, 200, 300, 400]}),
  yaxis4: Object.assign({}, yBase, {domain: [py(896), py(675.7)], range: [0, 300], position: px(673), side: 'right', tickvals: [0, 100, 200, 300]}),
  yaxis5: Object.assign({}, yBase, {domain: [py(1056), py(910)], range: [-20, 0], position: px(123), side: 'left', tickvals: [-20, -15, -10, -5, 0]}),
  yaxis6: Object.assign({}, yBase, {domain: [py(1239), py(1064)], range: [0, 15], position: px(679), side: 'right', tickvals: [0, 5, 10, 15]}),
  shapes, annotations
};
Plotly.newPlot('chart', traces, layout, {staticPlot: true, displayModeBar: false});
</script></body></html>
